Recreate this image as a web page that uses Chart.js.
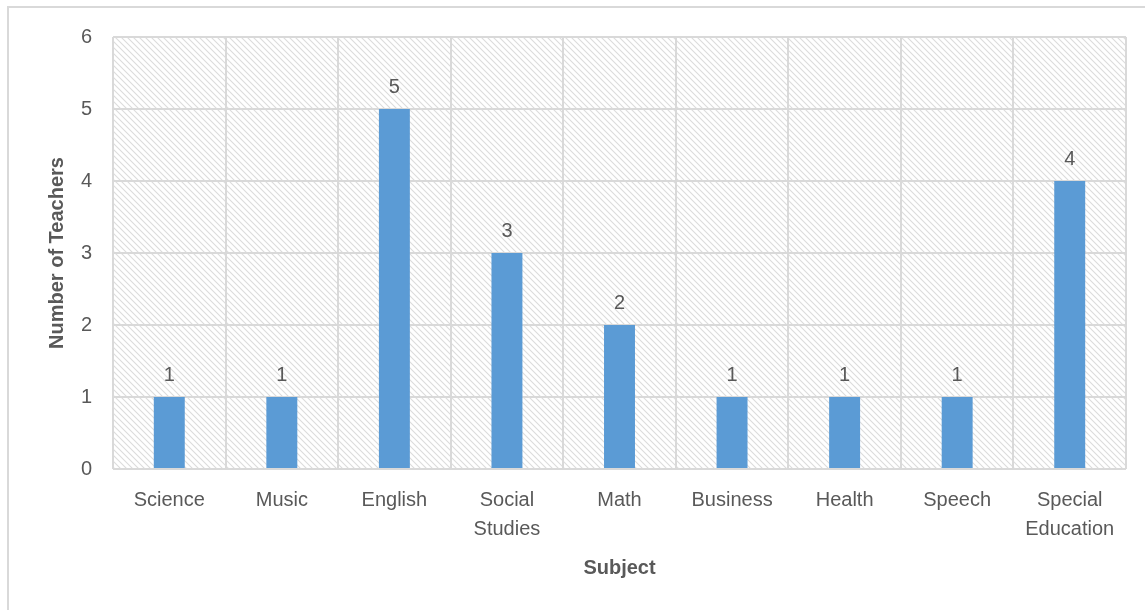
<!DOCTYPE html>
<html>
<head>
<meta charset="utf-8">
<script src="https://cdn.jsdelivr.net/npm/chart.js@4.4.0/dist/chart.umd.min.js"></script>
<style>
  body { margin: 0; background: #fff; }
  #wrap { position: relative; width: 1145px; height: 610px; }
  #frame { position: absolute; left: 7px; top: 6px; right: -2px; bottom: -2px; border: 2px solid #d9d9d9; }
  canvas { position: absolute; left: 0; top: 0; }
</style>
</head>
<body>
<div id="wrap">
  <div id="frame"></div>
  <canvas id="teachers" width="1145" height="610"></canvas>
</div>
<script>
var subjects = ["Science", "Music", "English", ["Social", "Studies"], "Math", "Business", "Health", "Speech", ["Special", "Education"]];
var teacherCounts = [1, 1, 5, 3, 2, 1, 1, 1, 4];
var yTicks = [0, 1, 2, 3, 4, 5, 6];

var textColor = "#595959";
var fontName = "'Liberation Sans', Arial, sans-serif";

// diagonal hatch for the plot background
function makeHatch() {
    var c = document.createElement("canvas");
    c.width = 6;
    c.height = 6;
    var g = c.getContext("2d");
    g.strokeStyle = "#dcdcdc";
    g.lineWidth = 1.1;
    g.beginPath();
    g.moveTo(-1, -1); g.lineTo(7, 7);
    g.moveTo(-1, 5); g.lineTo(1, 7);
    g.moveTo(5, -1); g.lineTo(7, 1);
    g.stroke();
    return g.createPattern(c, "repeat");
}

var hatchBg = {
    id: "hatchBg",
    beforeDraw: function (chart) {
        var a = chart.chartArea;
        var ctx = chart.ctx;
        ctx.save();
        ctx.fillStyle = makeHatch();
        ctx.fillRect(a.left, a.top, a.right - a.left, a.bottom - a.top);
        ctx.restore();
    }
};

var barValues = {
    id: "barValues",
    afterDatasetsDraw: function (chart) {
        var ctx = chart.ctx;
        var meta = chart.getDatasetMeta(0);
        ctx.save();
        ctx.fillStyle = textColor;
        ctx.font = "20px " + fontName;
        ctx.textAlign = "center";
        ctx.textBaseline = "middle";
        meta.data.forEach(function (bar, i) {
            ctx.fillText(teacherCounts[i], bar.x, bar.y - 22);
        });
        ctx.restore();
    }
};

var ctx = document.getElementById("teachers").getContext("2d");

var myChart = new Chart(ctx, {
    type: "bar",
    data: {
        labels: subjects,
        datasets: [{
            data: teacherCounts,
            backgroundColor: "#5b9bd5",
            barPercentage: 0.55,
            categoryPercentage: 0.5
        }]
    },
    options: {
        responsive: false,
        animation: false,
        layout: { padding: { top: 37, right: 19, left: 0, bottom: 0 } },
        plugins: {
            legend: { display: false },
            tooltip: { enabled: false }
        },
        scales: {
            x: {
                grid: { color: "#d9d9d9", lineWidth: 2, drawTicks: false, offset: true },
                border: { display: false },
                ticks: {
                    color: textColor,
                    font: { family: fontName, size: 20, lineHeight: 1.45 },
                    padding: 17,
                    maxRotation: 0,
                    autoSkip: false
                },
                title: {
                    display: true,
                    text: "Subject",
                    color: textColor,
                    font: { family: fontName, size: 20, weight: "bold" },
                    padding: { top: 0, bottom: 30 }
                },
                afterFit: function (s) { s.height = 610 - 469; }
            },
            y: {
                min: 0,
                max: 6,
                afterBuildTicks: function (s) {
                    s.ticks = yTicks.map(function (v) { return { value: v }; });
                },
                grid: { color: "#d9d9d9", lineWidth: 2, drawTicks: false },
                border: { display: false },
                ticks: {
                    color: textColor,
                    font: { family: fontName, size: 20 },
                    padding: 21
                },
                title: {
                    display: true,
                    text: "Number of Teachers",
                    color: textColor,
                    font: { family: fontName, size: 20, weight: "bold" },
                    padding: { top: 45, bottom: 0 }
                },
                afterFit: function (s) { s.width = 113; }
            }
        }
    },
    plugins: [hatchBg, barValues]
});
</script>
</body>
</html>
